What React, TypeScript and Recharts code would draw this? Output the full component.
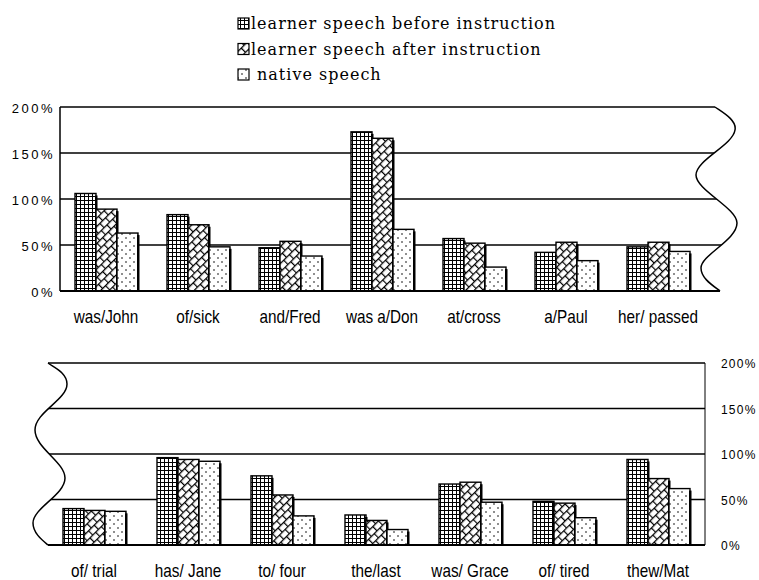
import { BarChart, Bar, XAxis, YAxis, CartesianGrid } from "recharts";

const topCategories = ["was/John", "of/sick", "and/Fred", "was a/Don", "at/cross", "a/Paul", "her/ passed"];
const topBefore = [106, 83, 47, 173, 57, 42, 48];
const topAfter = [89, 72, 54, 166, 52, 53, 53];
const topNative = [63, 48, 38, 67, 26, 33, 43];

const bottomCategories = ["of/ trial", "has/ Jane", "to/ four", "the/last", "was/ Grace", "of/ tired", "thew/Mat"];
const bottomBefore = [40, 96, 76, 33, 67, 48, 94];
const bottomAfter = [38, 94, 55, 27, 69, 46, 73];
const bottomNative = [37, 92, 32, 17, 47, 30, 62];

const seriesNames = [
  "learner speech before instruction",
  "learner speech after instruction",
  "native speech",
];
const seriesKeys = ["before", "after", "native"];
const seriesFills = ["url(#pGrid)", "url(#pHatch)", "url(#pDots)"];
const yTicks = [0, 50, 100, 150, 200];

const makeRows = (cats: string[], a: number[], b: number[], c: number[]) =>
  cats.map((name, i) => ({ name, before: a[i], after: b[i], native: c[i] }));

const topRows = makeRows(topCategories, topBefore, topAfter, topNative);
const bottomRows = makeRows(bottomCategories, bottomBefore, bottomAfter, bottomNative);

const sans = "'Liberation Sans', Arial, sans-serif";

function Patterns() {
  return (
    <svg width={0} height={0} style={{ position: "absolute" }}>
      <defs>
        <pattern id="pGrid" width={4} height={4} patternUnits="userSpaceOnUse">
          <rect width={4} height={4} fill="#fff" />
          <path d="M0,0.5 H4 M0.5,0 V4" stroke="#000" strokeWidth={1} />
        </pattern>
        <pattern
          id="pHatch"
          width={8}
          height={12}
          patternUnits="userSpaceOnUse"
          patternTransform="rotate(-45)"
        >
          <rect width={8} height={12} fill="#fff" />
          <path d="M0,0.6 H8 M0,6.6 H8 M0.6,0 V6 M4.6,6 V12" stroke="#000" strokeWidth={1.2} />
        </pattern>
        <pattern id="pDots" width={8} height={8} patternUnits="userSpaceOnUse">
          <rect width={8} height={8} fill="#fff" />
          <circle cx={2} cy={2} r={0.8} fill="#000" />
          <circle cx={6} cy={6} r={0.8} fill="#000" />
        </pattern>
      </defs>
    </svg>
  );
}

const PatternBar = (props: any) => {
  const { x, y, width, height, fill } = props;
  if (!height || height <= 0) return null;
  return (
    <g>
      <rect x={x} y={y} width={width} height={height} fill={fill} stroke="#000" strokeWidth={1.4} />
      <rect x={x + width - 1} y={y + 2} width={2.5} height={height - 2} fill="#000" />
    </g>
  );
};

const CategoryTick = (props: any) => {
  const { x, y, payload } = props;
  return (
    <text
      transform={`translate(${x},${y + 32}) scale(0.85,1)`}
      textAnchor="middle"
      fontFamily={sans}
      fontSize={18}
      fill="#000"
    >
      {payload.value}
    </text>
  );
};

const LeftTick = (props: any) => {
  const { x, y, payload } = props;
  return (
    <text x={x} y={y + 6} textAnchor="end" fontFamily={sans} fontSize={13} letterSpacing={2.5} fill="#000">
      {payload.value}%
    </text>
  );
};

const RightTick = (props: any) => {
  const { x, y, payload } = props;
  return (
    <text x={x} y={y + 5} textAnchor="start" fontFamily={sans} fontSize={12} letterSpacing={1.2} fill="#000">
      {payload.value}%
    </text>
  );
};

function Legend() {
  return (
    <svg width={759} height={90} style={{ position: "absolute", left: 0, top: 0 }}>
      {seriesNames.map((n, i) => {
        const base = 29 + i * 25.5;
        return (
          <g key={n}>
            <rect x={238} y={base - 11} width={11} height={11} fill={seriesFills[i]} stroke="#000" strokeWidth={1.2} />
            <text
              x={i === 2 ? 257 : 251}
              y={base}
              fontFamily="'DejaVu Serif', serif"
              fontSize={16}
              letterSpacing={1}
              fill="#000"
            >
              {n}
            </text>
          </g>
        );
      })}
    </svg>
  );
}

const topWave =
  "C722,112 737,120 735,130 C733,145 696,160 696,175 C696,190 737,208 737,223 C737,240 701,255 701,268 C701,278 712,285 720,291";
const bottomWave =
  "C55,368 67,373 67,384 C67,400 35,412 35,430 C35,448 65,462 65,478 C65,495 33,508 33,523 C33,533 42,540 48,545";

function Waves() {
  return (
    <svg width={759} height={580} style={{ position: "absolute", left: 0, top: 0, pointerEvents: "none" }}>
      <path d={`M715,103 L715,107 ${topWave} L720,295 L759,295 L759,103 Z`} fill="#fff" />
      <path d={`M715,107 ${topWave}`} fill="none" stroke="#000" strokeWidth={1.5} />
      <path d={`M0,359 L48,359 L48,363 ${bottomWave} L48,549 L0,549 Z`} fill="#fff" />
      <path d={`M48,363 ${bottomWave}`} fill="none" stroke="#000" strokeWidth={1.5} />
    </svg>
  );
}

function Bars() {
  return seriesKeys.map((k, i) => (
    <Bar
      key={k}
      dataKey={k}
      name={seriesNames[i]}
      fill={seriesFills[i]}
      barSize={21}
      shape={<PatternBar />}
      isAnimationActive={false}
    />
  ));
}

export default function App() {
  return (
    <div
      style={{
        position: "absolute",
        left: 0,
        top: 0,
        width: 759,
        height: 580,
        background: "#fff",
        overflow: "hidden",
      }}
    >
      <Patterns />
      <Legend />
      <div style={{ position: "absolute", left: 0, top: 0 }}>
        <BarChart
          width={759}
          height={330}
          data={topRows}
          barGap={0}
          margin={{ top: 107, right: 19, left: 0, bottom: 0 }}
        >
          <CartesianGrid vertical={false} stroke="#000" strokeWidth={1.5} />
          <XAxis
            dataKey="name"
            height={39}
            padding={{ left: 0, right: 36 }}
            axisLine={{ stroke: "#000", strokeWidth: 2 }}
            tickLine={false}
            tickSize={0}
            tickMargin={0}
            interval={0}
            tick={<CategoryTick />}
          />
          <YAxis
            width={60}
            domain={[0, 200]}
            ticks={yTicks}
            axisLine={{ stroke: "#000", strokeWidth: 1.5 }}
            tickLine={false}
            tickSize={0}
            tickMargin={5}
            tick={<LeftTick />}
          />
          {Bars()}
        </BarChart>
      </div>
      <div style={{ position: "absolute", left: 0, top: 330 }}>
        <BarChart
          width={759}
          height={250}
          data={bottomRows}
          barGap={0}
          margin={{ top: 33, right: 0, left: 30, bottom: 0 }}
        >
          <CartesianGrid vertical={false} stroke="#000" strokeWidth={1.5} />
          <XAxis
            dataKey="name"
            height={35}
            padding={{ left: 17, right: 0 }}
            axisLine={{ stroke: "#000", strokeWidth: 2 }}
            tickLine={false}
            tickSize={0}
            tickMargin={0}
            interval={0}
            tick={<CategoryTick />}
          />
          <YAxis
            orientation="right"
            width={54}
            domain={[0, 200]}
            ticks={yTicks}
            axisLine={{ stroke: "#000", strokeWidth: 1 }}
            tickLine={false}
            tickSize={0}
            tickMargin={16}
            tick={<RightTick />}
          />
          {Bars()}
        </BarChart>
      </div>
      <Waves />
    </div>
  );
}
